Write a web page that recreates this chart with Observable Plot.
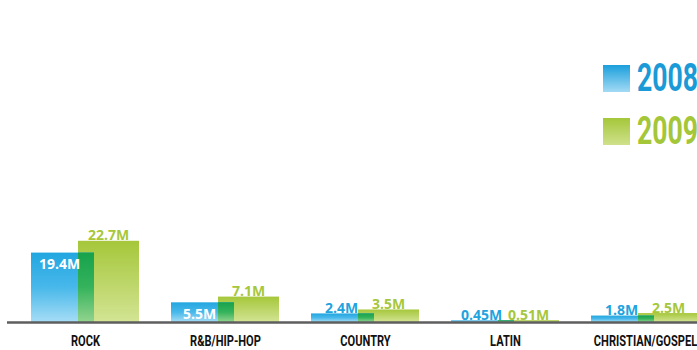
<!DOCTYPE html>
<html><head><meta charset="utf-8">
<script src="https://cdn.jsdelivr.net/npm/d3@7"></script>
<script src="https://cdn.jsdelivr.net/npm/@observablehq/plot@0.6"></script>
<style>
body{margin:0;background:#fff;}
#wrap{position:relative;width:697px;height:350px;overflow:hidden;background:#fff;}
.leg{position:absolute;left:603px;width:200px;height:27px;font-family:Roboto,sans-serif;font-weight:bold;font-size:38px;white-space:nowrap;}
.sw{position:absolute;left:0;top:0;width:27px;height:27px;}
.lt{position:absolute;left:34px;top:-9px;line-height:45px;transform:scaleX(0.7);transform-origin:0 0;}
</style></head><body><div id="wrap"></div>
<script>
const categories = ["ROCK", "R&B/HIP-HOP", "COUNTRY", "LATIN", "CHRISTIAN/GOSPEL"];
const sales2008 = [19.4, 5.5, 2.4, 0.45, 1.8];
const sales2009 = [22.7, 7.1, 3.5, 0.51, 2.5];
const labels2008 = ["19.4M", "5.5M", "2.4M", "0.45M", "1.8M"];
const labels2009 = ["22.7M", "7.1M", "3.5M", "0.51M", "2.5M"];
const years = ["2008", "2009"];

const BLUE = "#22a3de", GREEN = "#a6c73c";
const rows = categories.map((c, i) => ({cat: c, v08: sales2008[i], v09: sales2009[i], l08: labels2008[i], l09: labels2009[i]}));

const labelFont = {fontFamily: "'Open Sans', sans-serif", fontWeight: "bold", fontSize: 14};

const plot = Plot.plot({
  width: 697, height: 350,
  marginTop: 0, marginBottom: 28, marginLeft: 7, marginRight: 0,
  x: {domain: categories, range: [13.9, 715.1], paddingInner: 0.23, paddingOuter: 0.115, label: null},
  y: {domain: [0, 90], axis: null},
  style: {background: "transparent", overflow: "hidden"},
  marks: [
    Plot.barY(rows, {x: "cat", y: "v09", fill: "url(#gGreen)", insetLeft: 47}),
    Plot.barY(rows, {x: "cat", y: "v08", fill: "url(#gBlue)", insetRight: 45}),
    // overlap of the two bars
    Plot.barY(rows, {x: "cat", y: d => Math.min(d.v08, d.v09), fill: "url(#gDark)", insetLeft: 47, insetRight: 45}),
    Plot.ruleY([0], {stroke: "#5e5e5e", strokeWidth: 2.5}),
    Plot.text(rows, {filter: d => d.v08 > 5, x: "cat", y: "v08", text: "l08", fill: "white", lineAnchor: "top", dy: 6, dx: -26, ...labelFont}),
    Plot.text(rows, {filter: d => d.v08 <= 5, x: "cat", y: "v08", text: "l08", fill: BLUE, lineAnchor: "bottom", dy: -1, dx: -24, ...labelFont}),
    Plot.text(rows, {x: "cat", y: "v09", text: "l09", fill: GREEN, lineAnchor: "bottom", dy: -1, dx: 23, ...labelFont}),
    Plot.axisX({tickSize: 0, tickPadding: 13, fontSize: 15, fontFamily: "Roboto, sans-serif", fontWeight: "bold", fill: "#111", label: null})
  ]
});

const defs = d3.select(plot).insert("defs", ":first-child");
function grad(id, stops) {
  const g = defs.append("linearGradient").attr("id", id).attr("x1", 0).attr("y1", 0).attr("x2", 0).attr("y2", 1);
  stops.forEach(([o, c]) => g.append("stop").attr("offset", o).attr("stop-color", c));
}
grad("gBlue", [[0, "#22a6e0"], [0.5, "#48b8ea"], [1, "#a6ddf6"]]);
grad("gGreen", [[0, "#a5c73a"], [1, "#d3e494"]]);
grad("gDark", [[0, "#17a24c"], [0.5, "#35b35c"], [1, "#92d48e"]]);

// condense the category labels horizontally
d3.select(plot).selectAll("g[aria-label='x-axis tick label'] text").each(function() {
  const t = this.getAttribute("transform");
  if (t) {
    this.setAttribute("transform", t + " scale(0.74,1)");
  } else {
    const x = this.getAttribute("x") || 0, y = this.getAttribute("y") || 0;
    this.removeAttribute("x"); this.removeAttribute("y");
    this.setAttribute("transform", `translate(${x},${y}) scale(0.74,1)`);
  }
});

const wrap = document.getElementById("wrap");
wrap.appendChild(plot);

const legendColors = [["#1b9fdc", "#a3daf5", "#1a9ad6"], ["#a5c73a", "#cfe18c", "#a4c639"]];
const legendTops = [65, 118];
years.forEach((y, i) => {
  const d = document.createElement("div");
  d.className = "leg";
  d.style.top = legendTops[i] + "px";
  d.style.color = legendColors[i][2];
  const sw = document.createElement("div");
  sw.className = "sw";
  sw.style.background = `linear-gradient(${legendColors[i][0]}, ${legendColors[i][1]})`;
  d.appendChild(sw);
  const t = document.createElement("span");
  t.className = "lt";
  t.textContent = y;
  d.appendChild(t);
  wrap.appendChild(d);
});
</script>
</body></html>
